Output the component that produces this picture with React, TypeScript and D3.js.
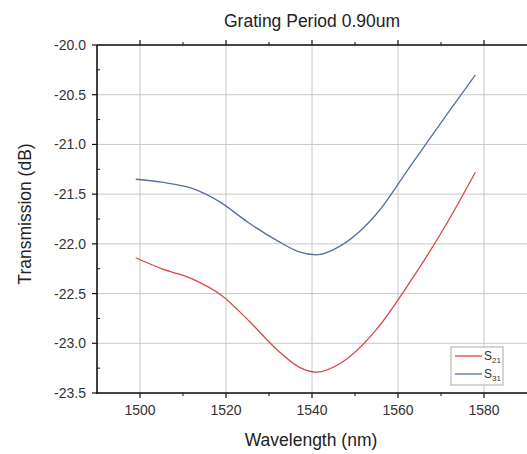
import React from "react";
import * as d3 from "d3";

const wavelengths = [1499, 1505, 1512, 1519, 1525, 1532, 1537, 1541, 1547, 1555, 1563, 1571, 1578];
const s21 = [-22.14, -22.25, -22.35, -22.52, -22.76, -23.07, -23.24, -23.29, -23.19, -22.86, -22.37, -21.82, -21.28];
const s31 = [-21.35, -21.38, -21.44, -21.59, -21.78, -21.97, -22.08, -22.11, -22.01, -21.70, -21.21, -20.72, -20.30];
const xTicks = [1500, 1520, 1540, 1560, 1580];
const xMinor = [1510, 1530, 1550, 1570];
const yTicks = [-20.0, -20.5, -21.0, -21.5, -22.0, -22.5, -23.0, -23.5];
const yMinor = [-20.25, -20.75, -21.25, -21.75, -22.25, -22.75, -23.25];
const seriesNames = ["S21", "S31"];

const W = 527, H = 454;
const L = 97, R = 527, T = 45, B = 393;

export default function App() {
  const x = d3.scaleLinear().domain([1490, 1590]).range([L, R]);
  const y = d3.scaleLinear().domain([-23.5, -20]).range([B, T]);
  const line = d3.line<number>().x((_, i) => x(wavelengths[i])).curve(d3.curveMonotoneX);
  const colors = ["#d8474a", "#55709c"];
  const data = [s21, s31];
  const font = "'Liberation Sans', Arial, sans-serif";
  return (
    <svg width={W} height={H} style={{ position: "absolute", left: 0, top: 0, background: "#fff" }} fontFamily={font}>
      {xTicks.map(t => (
        <line key={"gx" + t} x1={x(t)} x2={x(t)} y1={T} y2={B} stroke="#c8c8c8" strokeWidth={1} />
      ))}
      {yTicks.map(t => (
        <line key={"gy" + t} x1={L} x2={R} y1={y(t)} y2={y(t)} stroke="#c8c8c8" strokeWidth={1} />
      ))}
      {data.map((d, k) => (
        <path key={k} d={line.y((v: number) => y(v))(d) || ""} fill="none" stroke={colors[k]} strokeWidth={1.3} />
      ))}
      <line x1={L} x2={R} y1={T} y2={T} stroke="#111" strokeWidth={1.6} />
      <line x1={L} x2={R} y1={B} y2={B} stroke="#111" strokeWidth={1.6} />
      <line x1={L} x2={L} y1={T} y2={B + 1} stroke="#111" strokeWidth={1.6} />
      {xTicks.map(t => (
        <g key={"xt" + t}>
          <line x1={x(t)} x2={x(t)} y1={B} y2={B + 5} stroke="#111" strokeWidth={1.2} />
          <line x1={x(t)} x2={x(t)} y1={T} y2={T - 5} stroke="#111" strokeWidth={1.2} />
          <text x={x(t)} y={B + 22} textAnchor="middle" fontSize={14} fill="#333">{t}</text>
        </g>
      ))}
      {xMinor.map(t => (
        <g key={"xm" + t}>
          <line x1={x(t)} x2={x(t)} y1={B} y2={B + 3} stroke="#111" strokeWidth={1} />
          <line x1={x(t)} x2={x(t)} y1={T} y2={T - 3} stroke="#111" strokeWidth={1} />
        </g>
      ))}
      {yTicks.map(t => (
        <g key={"yt" + t}>
          <line x1={L - 5} x2={L} y1={y(t)} y2={y(t)} stroke="#111" strokeWidth={1.2} />
          <text x={L - 11} y={y(t) + 5} textAnchor="end" fontSize={14} fill="#333">{t.toFixed(1)}</text>
        </g>
      ))}
      {yMinor.map(t => (
        <line key={"ym" + t} x1={L} x2={L + 3} y1={y(t)} y2={y(t)} stroke="#111" strokeWidth={1} />
      ))}
      <text x={312} y={27} textAnchor="middle" fontSize={17.5} fill="#222">Grating Period 0.90um</text>
      <text x={311} y={446} textAnchor="middle" fontSize={17.5} fill="#222">Wavelength (nm)</text>
      <text transform={`translate(31,214) rotate(-90)`} textAnchor="middle" fontSize={17.5} fill="#222">Transmission (dB)</text>
      <rect x={451} y={347} width={52} height={38} fill="#fff" stroke="#aaa" strokeWidth={1} />
      {seriesNames.map((n, k) => (
        <g key={n}>
          <line x1={455} x2={482} y1={356 + k * 18} y2={356 + k * 18} stroke={colors[k]} strokeWidth={1.3} />
          <text x={484} y={360 + k * 18} fontSize={12} fill="#333">
            {n[0]}<tspan fontSize={8} dy={3}>{n.slice(1)}</tspan>
          </text>
        </g>
      ))}
    </svg>
  );
}
